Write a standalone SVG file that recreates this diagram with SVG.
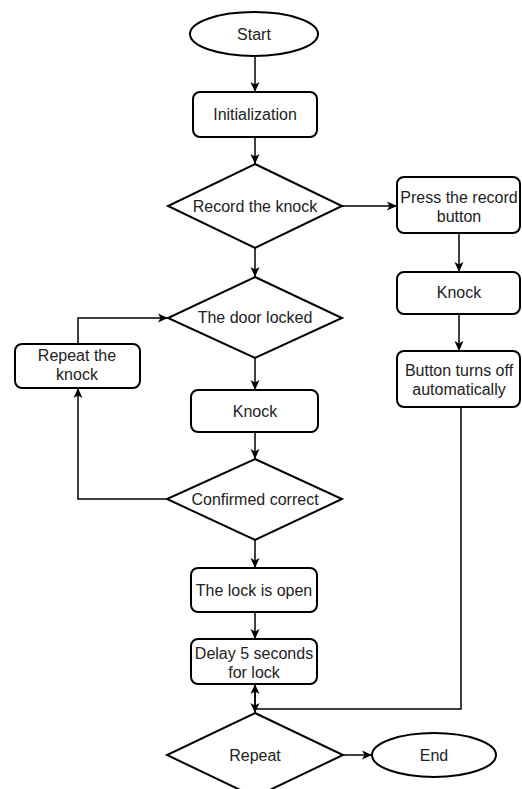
<svg xmlns="http://www.w3.org/2000/svg" width="522" height="789" viewBox="0 0 522 789">
<style>
.s{fill:#fff;stroke:#000;stroke-width:2}
.t{font-family:"Liberation Sans",Arial,sans-serif;font-size:16px;fill:#222;text-anchor:middle}
.c{fill:none;stroke:#000;stroke-width:1.5}
</style>
<defs>
<marker id="a" markerUnits="userSpaceOnUse" markerWidth="12" markerHeight="12" viewBox="0 0 12 12" refX="11" refY="6" orient="auto">
<path d="M1,1.5 L11,6 L1,10.5 L3.5,6 Z" fill="#000"/>
</marker>
</defs>
<rect width="522" height="789" fill="#fff"/>
<g id="connectors">
<path class="c" d="M255,56 V92" marker-end="url(#a)"/>
<path class="c" d="M255,137 V164" marker-end="url(#a)"/>
<path class="c" d="M342,206 H397" marker-end="url(#a)"/>
<path class="c" d="M255,248 V277" marker-end="url(#a)"/>
<path class="c" d="M459,233 V272" marker-end="url(#a)"/>
<path class="c" d="M459,314 V351" marker-end="url(#a)"/>
<path class="c" d="M255,358 V390" marker-end="url(#a)"/>
<path class="c" d="M255,432 V459" marker-end="url(#a)"/>
<path class="c" d="M167,499 H78 V388" marker-end="url(#a)"/>
<path class="c" d="M78,344 V318 H168" marker-end="url(#a)"/>
<path class="c" d="M255,540 V568" marker-end="url(#a)"/>
<path class="c" d="M255,612 V639" marker-end="url(#a)"/>
<path class="c" d="M255,684 V713" marker-end="url(#a)"/>
<path class="c" d="M461,407 V709 H255 V684" marker-end="url(#a)"/>
<path class="c" d="M343,755 H372" marker-end="url(#a)"/>
</g>
<g id="start"><ellipse class="s" cx="254" cy="34" rx="64" ry="22"/><text class="t" x="254" y="40">Start</text></g>
<g id="init"><rect class="s" x="193" y="92" width="124" height="45" rx="7"/><text class="t" x="255" y="120">Initialization</text></g>
<g id="record"><polygon class="s" points="255,164 342,206 255,248 168,206"/><text class="t" x="255" y="212">Record the knock</text></g>
<g id="press"><rect class="s" x="397" y="177" width="123" height="56" rx="7"/><text class="t" x="459" y="203">Press the record</text><text class="t" x="459" y="222">button</text></g>
<g id="knockR"><rect class="s" x="397" y="272" width="123" height="42" rx="7"/><text class="t" x="459" y="298">Knock</text></g>
<g id="button"><rect class="s" x="397" y="351" width="123" height="56" rx="7"/><text class="t" x="459" y="376">Button turns off</text><text class="t" x="459" y="395">automatically</text></g>
<g id="door"><polygon class="s" points="255,277 342,318 255,358 168,318"/><text class="t" x="255" y="323">The door locked</text></g>
<g id="repeatKnock"><rect class="s" x="15" y="344" width="125" height="44" rx="7"/><text class="t" x="77" y="361">Repeat the</text><text class="t" x="77" y="380">knock</text></g>
<g id="knock"><rect class="s" x="191" y="390" width="127" height="42" rx="7"/><text class="t" x="255" y="417">Knock</text></g>
<g id="confirmed"><polygon class="s" points="255,459 342,499 255,540 167,499"/><text class="t" x="255" y="505">Confirmed correct</text></g>
<g id="open"><rect class="s" x="191" y="568" width="126" height="44" rx="7"/><text class="t" x="254" y="596">The lock is open</text></g>
<g id="delay"><rect class="s" x="191" y="639" width="126" height="45" rx="7"/><text class="t" x="254" y="659">Delay 5 seconds</text><text class="t" x="254" y="678">for lock</text></g>
<g id="repeat"><polygon class="s" points="255,713 343,755 255,797 167,755"/><text class="t" x="255" y="761">Repeat</text></g>
<g id="end"><ellipse class="s" cx="434" cy="755" rx="62" ry="22"/><text class="t" x="434" y="761">End</text></g>
</svg>
